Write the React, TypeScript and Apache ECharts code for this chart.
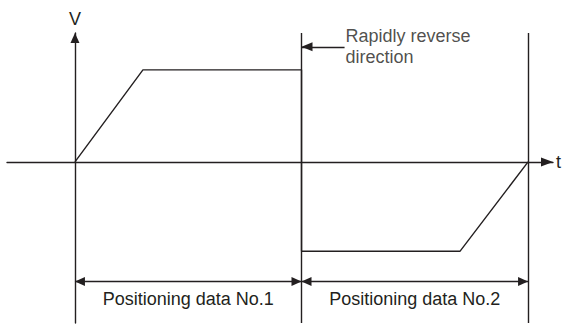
import React, { useEffect, useRef } from "react";
import * as echarts from "echarts";

// Velocity profile (time units, velocity units)
const profileT = [0, 3, 10, 10, 17, 20];
const profileV = [0, 1, 1, -0.97, -0.97, 0];

// Boundaries of positioning data
const boundaries = [10, 20];
const spans = [
  { from: 0, to: 10, label: "Positioning data No.1" },
  { from: 10, to: 20, label: "Positioning data No.2" },
];
const dimLevel = -1.3;
const reverseNote = { from: 11.9, to: 10, v: 1.25, text: "Rapidly reverse\ndirection" };

const INK = "#231f20";
const FONT = "Liberation Sans, Arial, sans-serif";
const HEAD = "triangle";

export default function App() {
  const ref = useRef<HTMLDivElement>(null);
  useEffect(() => {
    if (!ref.current) return;
    const chart = echarts.init(ref.current, undefined, { renderer: "svg" });
    const line = { color: INK, width: 1.4, type: "solid" as const };
    chart.setOption({
      animation: false,
      grid: { left: 7, right: 12, top: 33, bottom: 1 },
      xAxis: {
        type: "value",
        min: -3,
        max: 21.1,
        name: "t",
        nameLocation: "end",
        nameGap: 3,
        nameTextStyle: { color: INK, fontSize: 18, fontFamily: FONT, verticalAlign: "middle" },
        axisLine: {
          show: true,
          onZero: true,
          symbol: ["none", HEAD],
          symbolSize: [9, 12],
          symbolOffset: [0, -6],
          lineStyle: line,
        },
        axisTick: { show: false },
        axisLabel: { show: false },
        splitLine: { show: false },
      },
      yAxis: {
        type: "value",
        min: -1.75,
        max: 1.4,
        name: "V",
        nameLocation: "end",
        nameGap: 5,
        nameTextStyle: { color: INK, fontSize: 18, fontFamily: FONT },
        axisLine: {
          show: true,
          onZero: true,
          symbol: ["none", HEAD],
          symbolSize: [9, 10],
          symbolOffset: [0, -5],
          lineStyle: line,
        },
        axisTick: { show: false },
        axisLabel: { show: false },
        splitLine: { show: false },
      },
      series: [
        {
          type: "line",
          data: profileT.map((t, i) => [t, profileV[i]]),
          symbol: "none",
          lineStyle: line,
          clip: false,
          silent: true,
          markLine: {
            silent: true,
            symbol: "none",
            animation: false,
            label: { show: false },
            lineStyle: line,
            data: [
              ...boundaries.map((b) => ({ xAxis: b })),
              ...spans.map((s) => [
                {
                  coord: [s.from, dimLevel],
                  symbol: HEAD,
                  symbolSize: [9, 10],
                  symbolOffset: [0, 5],
                  label: {
                    show: true,
                    position: "insideMiddleBottom",
                    formatter: s.label,
                    color: INK,
                    fontSize: 18,
                    fontFamily: FONT,
                    distance: 8,
                  },
                },
                { coord: [s.to, dimLevel], symbol: HEAD, symbolSize: [9, 10], symbolOffset: [0, 5] },
              ]),
              [
                { coord: [reverseNote.from, reverseNote.v], symbol: "none" },
                {
                  coord: [reverseNote.to, reverseNote.v],
                  symbol: HEAD,
                  symbolSize: [9, 11],
                  symbolOffset: [0, 5.5],
                },
              ],
            ],
          },
        },
        {
          type: "scatter",
          data: [[reverseNote.from, reverseNote.v]],
          symbolSize: 0,
          silent: true,
          label: {
            show: true,
            position: "right",
            distance: 1,
            formatter: reverseNote.text,
            color: INK,
            fontSize: 18,
            lineHeight: 21,
            fontFamily: FONT,
            align: "left",
          },
        },
      ],
    });
    return () => chart.dispose();
  }, []);
  return (
    <div
      ref={ref}
      style={{ position: "absolute", left: 0, top: 0, width: 565, height: 324, background: "#fff" }}
    />
  );
}
